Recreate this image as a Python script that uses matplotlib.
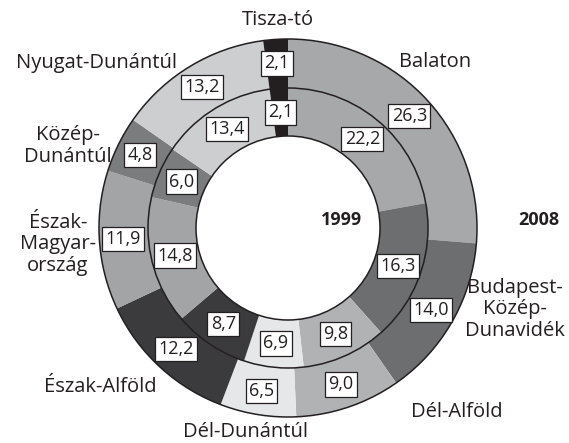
import numpy as np
import matplotlib
matplotlib.use('Agg')
from matplotlib import pyplot as plt
from matplotlib.patches import Circle

plt.rcParams['font.family'] = ['Open Sans', 'DejaVu Sans']

# regions, clockwise from the top
regions = ['Balaton', 'Budapest-Közép-Dunavidék', 'Dél-Alföld', 'Dél-Dunántúl',
           'Észak-Alföld', 'Észak-Magyarország', 'Közép-Dunántúl',
           'Nyugat-Dunántúl', 'Tisza-tó']
share_2008 = [26.3, 14.0, 9.0, 6.5, 12.2, 11.9, 4.8, 13.2, 2.1]
share_1999 = [22.2, 16.3, 9.8, 6.9, 8.7, 14.8, 6.0, 13.4, 2.1]
colors = ['#a7a8aa', '#6d6e70', '#b1b2b4', '#e6e7e8', '#3b3b3d',
          '#a3a4a6', '#7b7c7e', '#cdcecf', '#231f20']

# names around the ring (text, x px, y px)
names = [
    ('Tisza-tó', 278, 20),
    ('Balaton', 435, 62),
    ('Budapest-\nKözép-\nDunavidék', 515, 309),
    ('Dél-Alföld', 457, 412),
    ('Dél-Dunántúl', 245, 432),
    ('Észak-Alföld', 100, 387),
    ('Észak-\nMagyar-\nország', 58, 244),
    ('Közép-\nDunántúl', 68, 146),
    ('Nyugat-Dunántúl', 97, 63),
]

W, H = 569, 443
cx, cy = 288, 228          # centre in pixels
R = 189.0                  # outer radius in pixels
r_mid = 140 / R
r_hole = 92 / R

fig = plt.figure(figsize=(W / 100, H / 100), dpi=100)
ax = fig.add_axes([0, 0, 1, 1])

ax.pie(share_2008, radius=1, startangle=90, counterclock=False, colors=colors,
       wedgeprops=dict(width=1 - r_mid, edgecolor='none'))
ax.pie(share_1999, radius=r_mid, startangle=90, counterclock=False, colors=colors,
       wedgeprops=dict(width=r_mid - r_hole, edgecolor='none'))

for rad in (1, r_mid, r_hole):
    ax.add_patch(Circle((0, 0), rad, fill=False, edgecolor='#231f20', lw=1.1, zorder=3))

box = dict(boxstyle='square,pad=0.18', fc='white', ec='#231f20', lw=0.9)


def put_values(vals, rr):
    vals = np.array(vals)
    mids = np.cumsum(vals) - vals / 2
    ang = np.deg2rad(90 - mids / vals.sum() * 360)
    for v, a in zip(vals, ang):
        ax.text(rr * np.cos(a), rr * np.sin(a), f'{v:.1f}'.replace('.', ','),
                ha='center', va='center', fontsize=13, bbox=box, zorder=4,
                color='#231f20')


put_values(share_2008, 165 / R)
put_values(share_1999, 116 / R)


def px(x, y):
    return (x - cx) / R, (cy - y) / R


for txt, x, y in names:
    ax.text(*px(x, y), txt, ha='center', va='center', fontsize=14.5,
            color='#231f20', linespacing=1.1)

ax.text(*px(341, 220), '1999', ha='center', va='center', fontsize=13,
        fontweight='bold', color='#231f20')
ax.text(*px(539, 220), '2008', ha='center', va='center', fontsize=13,
        fontweight='bold', color='#231f20')

ax.set_xlim(-cx / R, (W - cx) / R)
ax.set_ylim(-(H - cy) / R, cy / R)
ax.set_aspect('equal')
ax.axis('off')

fig.savefig('out.png', dpi=100)
